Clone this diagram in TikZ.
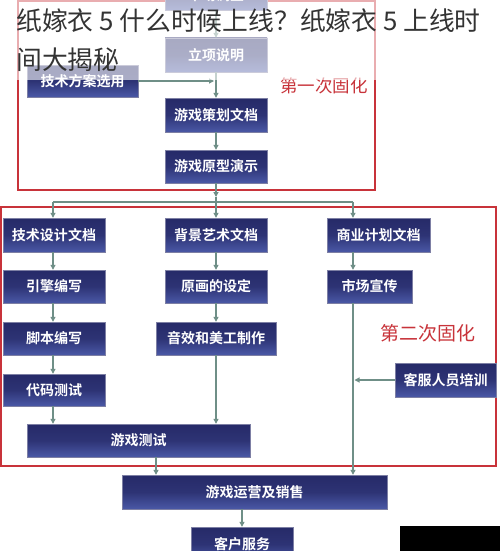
\documentclass[tikz,border=0pt]{standalone}
\usepackage{fontspec}
\setmainfont{Noto Sans CJK SC}[BoldFont={Noto Sans CJK SC Bold}]
\usetikzlibrary{arrows.meta,calc}
\definecolor{navyA}{HTML}{262A68}
\definecolor{navyB}{HTML}{4A58A6}
\definecolor{frameRed}{HTML}{C8333A}
\definecolor{arrowC}{HTML}{6F8F87}
\definecolor{titleC}{HTML}{333333}
\tikzset{
  flowbox/.style={rectangle, inner sep=0pt, top color=navyA, bottom color=navyB, middle color=navyA!80!navyB,
     text=white, font=\bfseries\fontsize{14}{15}\selectfont, draw=navyA!60!white, line width=0.4pt},
  conn/.style={draw=arrowC, line width=1.1pt, -{Triangle[length=5pt,width=5pt]}},
  plain/.style={draw=arrowC, line width=1.1pt},
  frame/.style={draw=frameRed, line width=2pt},
  redlabel/.style={text=frameRed, inner sep=0pt},
}
\begin{document}
\begin{tikzpicture}[x=1pt,y=-1pt]
\useasboundingbox (0,0) rectangle (500,551);
\fill[white] (0,0) rectangle (500,551);
% frames
\draw[frame] (18,1) rectangle (375,190);
\draw[frame] (1,207) rectangle (496,466);
% boxes
\node[flowbox, minimum width=102pt, minimum height=30pt] (survey) at (216,-5) {市场调查};
\node[flowbox, minimum width=102pt, minimum height=34pt] (lixiang) at (216,55) {立项说明};
\node[flowbox, minimum width=111pt, minimum height=32pt] (jishu) at (82.5,81) {技术方案选用};
\node[flowbox, minimum width=102pt, minimum height=34pt] (cehua) at (216,115) {游戏策划文档};
\node[flowbox, minimum width=102pt, minimum height=33pt] (yuanxing) at (216,166.5) {游戏原型演示};
\node[flowbox, minimum width=102pt, minimum height=34pt] (jsdoc) at (54,235) {技术设计文档};
\node[flowbox, minimum width=102pt, minimum height=34pt] (bjdoc) at (216,235) {背景艺术文档};
\node[flowbox, minimum width=103pt, minimum height=34pt] (sydoc) at (378.5,235) {商业计划文档};
\node[flowbox, minimum width=102pt, minimum height=33pt] (yinqing) at (54,286.5) {引擎编写};
\node[flowbox, minimum width=102pt, minimum height=33pt] (yuanhua) at (216,286.5) {原画的设定};
\node[flowbox, minimum width=85pt, minimum height=33pt] (shichang) at (369.5,286.5) {市场宣传};
\node[flowbox, minimum width=102pt, minimum height=33pt] (jiaoben) at (54,338.5) {脚本编写};
\node[flowbox, minimum width=120pt, minimum height=33pt] (yinxiao) at (216,338.5) {音效和美工制作};
\node[flowbox, minimum width=101pt, minimum height=34pt] (kefupx) at (445.5,380) {客服人员培训};
\node[flowbox, minimum width=102pt, minimum height=32pt] (daima) at (54,390) {代码测试};
\node[flowbox, minimum width=223pt, minimum height=33pt] (youxics) at (138.5,440.5) {游戏测试};
\node[flowbox, minimum width=265pt, minimum height=34pt] (yunying) at (254.5,492) {游戏运营及销售};
\node[flowbox, minimum width=102pt, minimum height=34pt] (kehu) at (242,544) {客户服务};
% labels
\node[redlabel, font=\fontsize{17.5}{18}\selectfont] (lab1) at (324,86) {第一次固化};
\node[redlabel, font=\fontsize{19}{20}\selectfont] (lab2) at (428,333) {第二次固化};
% helper coordinates
\coordinate (cL) at (53,202);
\coordinate (cM) at (216,202);
\coordinate (cR) at (353,202);
\coordinate (mid1) at (216,197);
\coordinate (jj) at (216,81);
\coordinate (cT) at (156,0);
% connectors
\draw[conn] (survey.south) -- (lixiang.north);
\draw[plain] (lixiang.south) -- (jj);
\draw[conn] (jj) -- (cehua.north);
\draw[conn] (jishu.east) -- ($(jj)+(-2,0)$);
\draw[conn] (cehua.south) -- (yuanxing.north);
\draw[conn] (yuanxing.south) -- (mid1);
\draw[plain] (mid1) -- (cM);
\draw[plain] (cL) -- (cR);
\draw[conn] (cL) -- (cL |- jsdoc.north);
\draw[conn] (cM) -- (bjdoc.north);
\draw[conn] (cR) -- (cR |- sydoc.north);
\draw[conn] (cL |- jsdoc.south) -- (cL |- yinqing.north);
\draw[conn] (cL |- yinqing.south) -- (cL |- jiaoben.north);
\draw[conn] (cL |- jiaoben.south) -- (cL |- daima.north);
\draw[conn] (cL |- daima.south) -- (cL |- youxics.north);
\draw[conn] (bjdoc.south) -- (yuanhua.north);
\draw[conn] (yuanhua.south) -- (yinxiao.north);
\draw[conn] (yinxiao.south) -- (yinxiao.south |- youxics.north);
\draw[conn] (cR |- sydoc.south) -- (cR |- shichang.north);
\draw[conn] (cR |- shichang.south) -- (cR |- yunying.north);
\draw[conn] (kefupx.west) -- ($(cR |- kefupx.west)+(1.5,0)$);
\draw[conn] (cT |- youxics.south) -- (cT |- yunying.north);
\draw[conn] (kehu.north |- yunying.south) -- (kehu.north);
% fade overlay on top region
\fill[white, opacity=0.6] (0,0) rectangle (500,80);
% title
\node[anchor=west, inner sep=0pt, text=titleC, font=\fontsize{25.8}{26}\selectfont] (title1) at (16,21) {纸嫁衣 5 什么时候上线？纸嫁衣 5 上线时};
\node[anchor=west, inner sep=0pt, text=titleC, font=\fontsize{25.8}{26}\selectfont] (title2) at (16,60) {间大揭秘};
% black patch
\fill[black] (400,526) rectangle (500,551);
\end{tikzpicture}
\end{document}
